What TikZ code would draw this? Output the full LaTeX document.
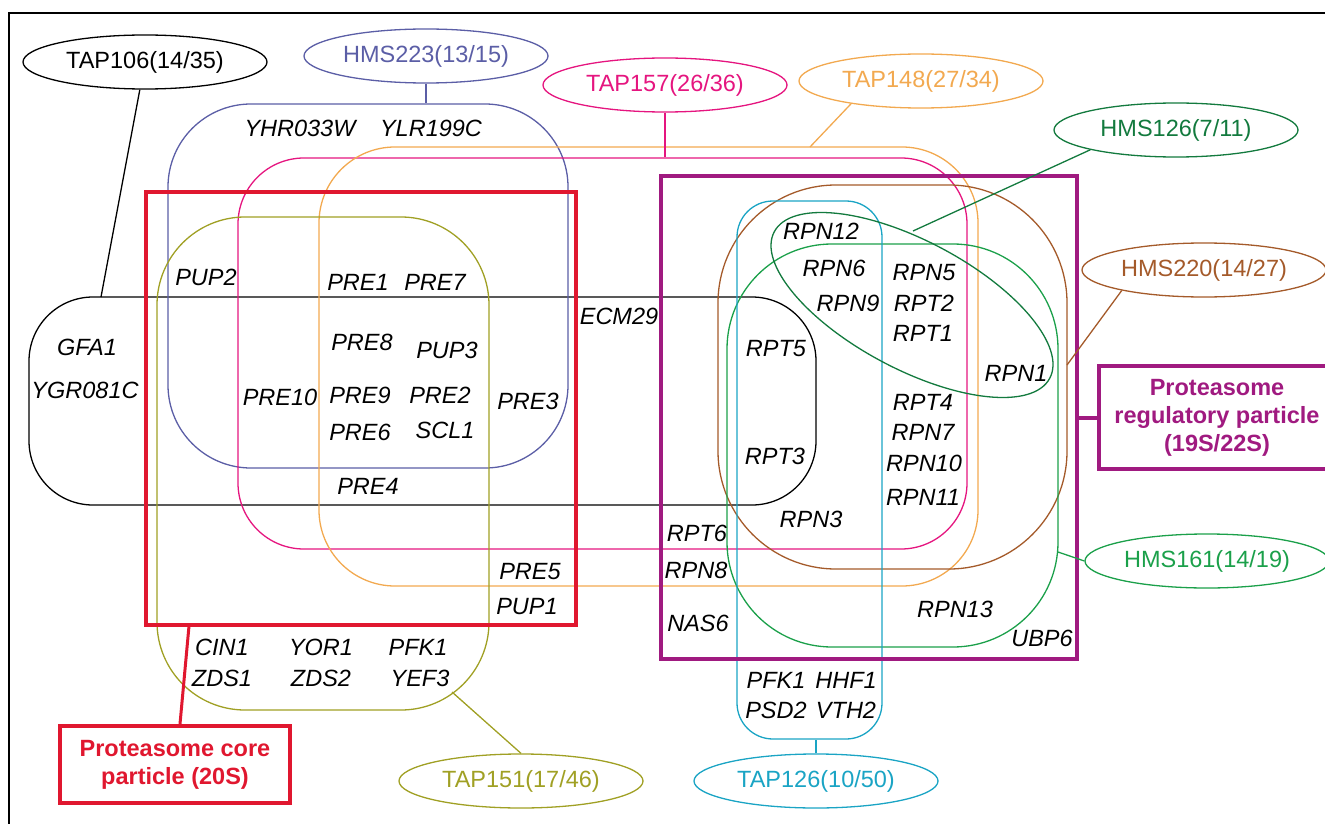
\documentclass[tikz,border=0pt]{standalone}
\usepackage{fontspec}
\setmainfont{Liberation Sans}
\usetikzlibrary{shapes.geometric}

\definecolor{hmsblue}{HTML}{5B5EA6}
\definecolor{tappink}{HTML}{E5157F}
\definecolor{taporange}{HTML}{F2A950}
\definecolor{hmsdkgreen}{HTML}{137A3E}
\definecolor{hmsbrown}{HTML}{A45A2A}
\definecolor{hmsgreen}{HTML}{1BA04A}
\definecolor{tapcyan}{HTML}{1AA4C4}
\definecolor{tapolive}{HTML}{A0A024}
\definecolor{corered}{HTML}{E0172F}
\definecolor{regpurple}{HTML}{A01A80}

\begin{document}
\begin{tikzpicture}[x=1pt, y=-1pt, line width=1.3pt,
    every node/.style={font=\fontsize{23.5}{28}\selectfont},
    tag/.style={ellipse, draw, inner sep=0pt, minimum width=244, minimum height=54},
    set/.style={draw, rectangle, inner sep=0pt},
    gene/.style={inner sep=0pt, font=\fontsize{23.5}{28}\selectfont\itshape},
    complex/.style={draw, rectangle, line width=4pt, inner sep=0pt, align=center,
      font=\fontsize{23.5}{28}\selectfont\bfseries}]
  \useasboundingbox (0,0) rectangle (1325,824);
  \draw (9,845) -- (9,13) -- (1345,13);

  % complex sets
  \node[set, rounded corners=64pt, minimum width=787, minimum height=208] (tap106set) at (422.5,401) {};
  \node[set, draw=hmsblue, rounded corners=83pt, minimum width=400, minimum height=364] (hms223set) at (368,286) {};
  \node[set, draw=tappink, rounded corners=66pt, minimum width=729, minimum height=391] (tap157set) at (602.5,353.5) {};
  \node[set, draw=taporange, rounded corners=76pt, minimum width=659, minimum height=439] (tap148set) at (648.5,366.5) {};
  \node[set, draw=tapolive, rounded corners=88pt, minimum width=332, minimum height=493] (tap151set) at (323,463.5) {};
  \node[set, draw=hmsbrown, rounded corners=118pt, minimum width=349, minimum height=384] (hms220set) at (892.5,377) {};
  \node[set, draw=hmsgreen, rounded corners=105pt, minimum width=331, minimum height=403] (hms161set) at (892.5,445.5) {};
  \node[set, draw=tapcyan, rounded corners=36pt, minimum width=145, minimum height=538] (tap126set) at (809.5,470) {};
  \node[ellipse, draw=hmsdkgreen, inner sep=0pt, minimum width=312, minimum height=128, rotate=-28] (hms126set) at (912,305) {};

  % proteasome particles
  \node[set, draw=corered, line width=4pt, minimum width=430, minimum height=433] (coreset) at (361,408.5) {};
  \node[set, draw=regpurple, line width=4pt, minimum width=416, minimum height=483] (regset) at (869,417.5) {};
  \node[complex, draw=corered, text=corered, minimum width=230, minimum height=77] (corelabel) at (175,764.5) {Proteasome core\\particle (20S)};
  \node[complex, draw=regpurple, text=regpurple, minimum width=236, minimum height=103] (reglabel) at (1217,417.5) {Proteasome\\regulatory particle\\(19S/22S)};

  % purifications
  \node[tag] (tap106) at (145,62) {TAP106(14/35)};
  \node[tag, draw=hmsblue, text=hmsblue] (hms223) at (426,56) {HMS223(13/15)};
  \node[tag, draw=tappink, text=tappink] (tap157) at (665,85) {TAP157(26/36)};
  \node[tag, draw=taporange, text=taporange] (tap148) at (921,81) {TAP148(27/34)};
  \node[tag, draw=hmsdkgreen, text=hmsdkgreen] (hms126) at (1176,130) {HMS126(7/11)};
  \node[tag, draw=hmsbrown, text=hmsbrown] (hms220) at (1204,270) {HMS220(14/27)};
  \node[tag, draw=hmsgreen, text=hmsgreen] (hms161) at (1207,561) {HMS161(14/19)};
  \node[tag, draw=tapcyan, text=tapcyan] (tap126) at (816,781) {TAP126(10/50)};
  \node[tag, draw=tapolive, text=tapolive] (tap151) at (521,781) {TAP151(17/46)};

  \coordinate (c106) at (101,297);
  \coordinate (c148) at (810,147);
  \coordinate (c126) at (913,231);
  \coordinate (c220) at (1067,365);
  \coordinate (c161) at (1058,552);
  \coordinate (c151) at (452,692);
  \coordinate (c20s) at (189,626);

  \draw (tap106) -- (c106);
  \draw[hmsblue] (hms223.south) -- (hms223.south |- hms223set.north);
  \draw[tappink] (tap157.south) -- (tap157.south |- tap157set.north);
  \draw[taporange] (tap148.-162) -- (c148);
  \draw[hmsdkgreen] (hms126.-167) -- (c126);
  \draw[hmsbrown] (hms220.-166) -- (c220);
  \draw[hmsgreen] (hms161.west) -- (c161);
  \draw[tapcyan] (tap126.north) -- (tap126.north |- tap126set.south);
  \draw[tapolive] (tap151.north) -- (c151);
  \draw[corered, line width=3pt] (c20s) -- ([xshift=5]corelabel.north);
  \draw[regpurple, line width=4pt] (reglabel.west) -- (reglabel.west -| regset.east);

  % proteins
  \node[gene] (yhr033w) at (300,128) {YHR033W};
  \node[gene] (ylr199c) at (431,128) {YLR199C};
  \node[gene] (pup2) at (206,277) {PUP2};
  \node[gene] (pre1) at (358,282) {PRE1};
  \node[gene] (pre7) at (435,282) {PRE7};
  \node[gene] (gfa1) at (87,347) {GFA1};
  \node[gene] (ygr081c) at (85,390) {YGR081C};
  \node[gene] (ecm29) at (619,316) {ECM29};
  \node[gene] (pre8) at (362,342) {PRE8};
  \node[gene] (pup3) at (447,350) {PUP3};
  \node[gene] (pre10) at (280,397) {PRE10};
  \node[gene] (pre9) at (360,395) {PRE9};
  \node[gene] (pre2) at (440,395) {PRE2};
  \node[gene] (pre3) at (528,401) {PRE3};
  \node[gene] (pre6) at (360,432) {PRE6};
  \node[gene] (scl1) at (445,430) {SCL1};
  \node[gene] (pre4) at (368,486) {PRE4};
  \node[gene] (pre5) at (530,572) {PRE5};
  \node[gene] (pup1) at (527,607) {PUP1};
  \node[gene] (cin1) at (222,647) {CIN1};
  \node[gene] (yor1) at (321,647) {YOR1};
  \node[gene] (pfkA) at (418,647) {PFK1};
  \node[gene] (zds1) at (222,678) {ZDS1};
  \node[gene] (zds2) at (321,678) {ZDS2};
  \node[gene] (yef3) at (420,678) {YEF3};
  \node[gene] (rpn12) at (821,231) {RPN12};
  \node[gene] (rpn6) at (834,268) {RPN6};
  \node[gene] (rpn9) at (848,303) {RPN9};
  \node[gene] (rpn5) at (924,273) {RPN5};
  \node[gene] (rpt2) at (924,303) {RPT2};
  \node[gene] (rpt1) at (923,333) {RPT1};
  \node[gene] (rpt5) at (776,349) {RPT5};
  \node[gene] (rpn1) at (1016,373) {RPN1};
  \node[gene] (rpt4) at (923,402) {RPT4};
  \node[gene] (rpn7) at (923,432) {RPN7};
  \node[gene] (rpn10) at (924,463) {RPN10};
  \node[gene] (rpn11) at (923,497) {RPN11};
  \node[gene] (rpt3) at (775,456) {RPT3};
  \node[gene] (rpn3) at (811,519) {RPN3};
  \node[gene] (rpt6) at (697,533) {RPT6};
  \node[gene] (rpn8) at (696,570) {RPN8};
  \node[gene] (nas6) at (698,623) {NAS6};
  \node[gene] (rpn13) at (955,609) {RPN13};
  \node[gene] (ubp6) at (1042,638) {UBP6};
  \node[gene] (pfkB) at (776,680) {PFK1};
  \node[gene] (hhf1) at (846,680) {HHF1};
  \node[gene] (psd2) at (776,710) {PSD2};
  \node[gene] (vth2) at (846,710) {VTH2};
\end{tikzpicture}
\end{document}
